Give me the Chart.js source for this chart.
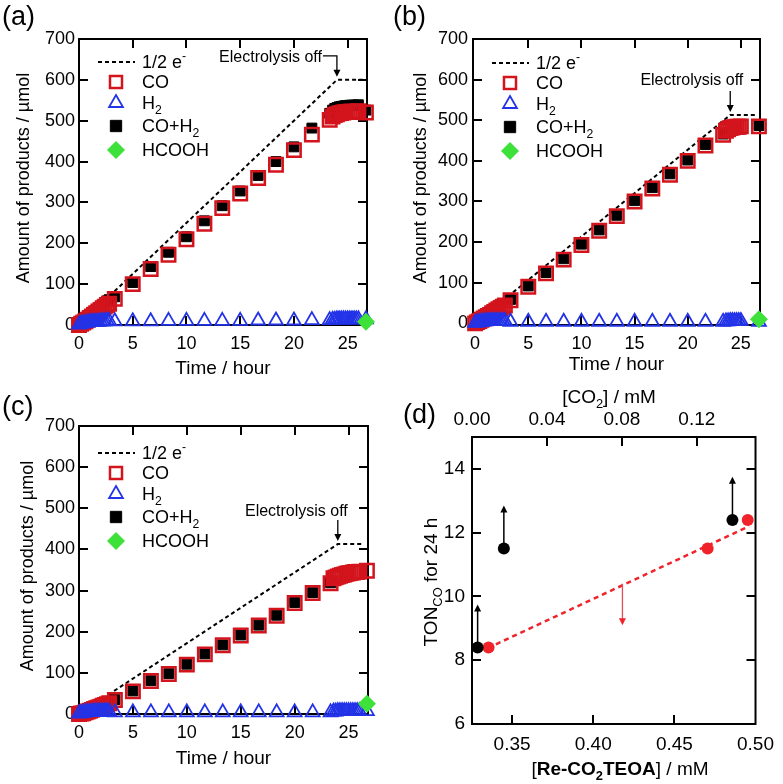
<!DOCTYPE html>
<html>
<head>
<meta charset="utf-8">
<script src="https://cdn.jsdelivr.net/npm/chart.js@4.4.0/dist/chart.umd.min.js"></script>
<style>
  body { margin: 0; background: #fff; }
  #wrap { position: relative; width: 783px; height: 784px; overflow: hidden; background: #fff; }
  canvas { position: absolute; }
</style>
</head>
<body>
<div id="wrap">
  <canvas id="chartA" width="391" height="390" style="left:0;top:0"></canvas>
  <canvas id="chartB" width="392" height="390" style="left:391px;top:0"></canvas>
  <canvas id="chartC" width="391" height="394" style="left:0;top:390px"></canvas>
  <canvas id="chartD" width="392" height="404" style="left:391px;top:380px"></canvas>
</div>
<script>
// sampling times (hour): dense start, every 100 min, dense end, final point
const hours = [0, 0.2, 0.4, 0.6, 0.8, 1.0, 1.2, 1.4, 1.6, 1.8, 2.0, 2.2, 2.4, 2.6, 2.8,
  3.33, 5, 6.67, 8.33, 10, 11.67, 13.33, 15, 16.67, 18.33, 20, 21.67, 23.33,
  23.6, 23.8, 24.0, 24.2, 24.4, 24.6, 24.8, 25.0, 25.2, 25.4, 25.6, 25.8, 26.0,
  26.7];
const hcoohHours = [26.7];
const halfEHours = [0, 24, 26.4];
const timeTicks = [0, 5, 10, 15, 20, 25];
const amountTicks = [0, 100, 200, 300, 400, 500, 600, 700];

// (a)
const coA = [0, 3, 6, 9, 13, 17, 21, 25, 29, 33, 37, 41, 45, 49, 52,
  64, 100, 137, 172, 210, 248, 286, 322, 360, 392, 428, 466, 502,
  510, 514, 516, 518, 519, 520, 521, 521, 522, 522, 522, 522, 523,
  520];
const h2A = [1, 3, 4, 5, 6, 7, 7, 8, 8, 8, 9, 9, 9, 10, 10,
  9, 9, 9, 10, 10, 10, 10, 10, 11, 11, 11, 12, 12,
  13, 13, 14, 14, 14, 14, 14, 14, 14, 14, 14, 14, 14,
  14];
const sumA = [1, 6, 10, 14, 19, 24, 28, 33, 37, 41, 46, 50, 54, 59, 62,
  69, 104, 143, 178, 216, 255, 292, 328, 366, 400, 436, 482, 518,
  526, 530, 532, 534, 535, 536, 537, 537, 538, 538, 538, 538, 539,
  526];
const hcoohA = [8];
const halfEA = [0, 600, 600];

// (b)
const coB = [0, 3, 6, 9, 12, 15, 18, 21, 25, 28, 32, 35, 38, 41, 44,
  57, 90, 123, 157, 193, 228, 264, 300, 332, 366, 400, 438, 464,
  474, 478, 481, 482, 483, 484, 484, 485, null, null, null, null, null,
  485];
const h2B = [1, 2, 3, 4, 5, 5, 6, 6, 6, 6, 6, 6, 6, 6, 6,
  4, 4, 4, 4, 4, 4, 4, 4, 4, 4, 4, 4, 4,
  5, 5, 6, 6, 6, 6, 6, 6, null, null, null, null, null,
  4];
const sumB = [null, null, null, null, null, null, null, null, null, null, null, null, null, null, null,
  59, 92, 125, 159, 195, 230, 266, 302, 334, 368, 402, 440, 466,
  null, null, null, null, null, null, null, null, null, null, null, null, null,
  487];
const hcoohB = [10];
const halfEB = [0, 513, 513];

// (c)
const coC = [0, 1, 2, 4, 6, 8, 10, 12, 14, 16, 18, 20, 22, 24, 26,
  34, 55, 80, 97, 120, 145, 167, 191, 215, 239, 270, 294, 318,
  330, 332, 334, 336, 338, 339, 341, 342, 343, 344, 345, 345, 346,
  348];
const h2C = [1, 2, 3, 4, 5, 5, 5, 6, 6, 6, 6, 6, 6, 6, 6,
  4, 4, 4, 4, 4, 4, 4, 4, 4, 4, 4, 4, 4,
  6, 6, 7, 7, 7, 7, 7, 7, 7, 7, 7, 7, 7,
  7];
const sumC = [null, null, null, null, null, null, null, null, null, null, null, null, null, null, null,
  35, 56, 81, 98, 121, 146, 168, 192, 216, 240, 271, 295, 319,
  null, null, null, null, null, null, null, null, null, null, null, null, null,
  null];
const hcoohC = [25];
const halfEC = [0, 413, 413];

// (d)
const co2Conc = [0.003, 0.017, 0.139];       // [CO2] / mM (top axis)
const tonBlack = [8.4, 11.5, 12.4];
const tonBlackArrowTo = [9.75, 12.85, 13.75];
const reConc = [0.3355, 0.4705, 0.4952];    // [Re-CO2TEOA] / mM
const tonRed = [8.4, 11.5, 12.4];
const fitConc = [0.335, 0.496];
const fitTon = [8.38, 12.2];
const redArrowConc = 0.418;
const redArrowTon = [10.4, 9.1];

const FONT = '"Liberation Sans", Arial, Helvetica, sans-serif';
const RED = '#d3141c';
const BLUE = '#2233e8';
const GREEN = '#3ee03a';
const BRIGHTRED = '#f0232a';

function pts(xs, ys) {
  return xs.map((x, i) => ({x: x, y: ys[i]})).filter(p => p.y !== null && p.y !== undefined);
}

// parts: [text, flags] flags: 'B' bold, '_' subscript, '^' superscript
function richText(ctx, parts, x, y, size, align) {
  let total = 0;
  const items = parts.map(p => {
    const t = p[0], f = p[1] || '';
    const small = f.includes('_') || f.includes('^');
    const fs = small ? size * 0.68 : size;
    const font = (f.includes('B') ? 'bold ' : '') + fs.toFixed(1) + 'px ' + FONT;
    ctx.font = font;
    const w = ctx.measureText(t).width;
    total += w;
    return {t: t, font: font, w: w, dy: f.includes('_') ? size * 0.26 : (f.includes('^') ? -size * 0.45 : 0)};
  });
  let cx = align === 'center' ? x - total / 2 : (align === 'right' ? x - total : x);
  const base = y + size * 0.36;
  ctx.textAlign = 'left';
  ctx.textBaseline = 'alphabetic';
  items.forEach(it => {
    ctx.font = it.font;
    ctx.fillText(it.t, cx, base + it.dy);
    cx += it.w;
  });
}

function vText(ctx, parts, x, y, size) {
  ctx.save();
  ctx.translate(x, y);
  ctx.rotate(-Math.PI / 2);
  richText(ctx, parts, 0, 0, size, 'center');
  ctx.restore();
}

function arrowHead(ctx, x, y, dir, color) {
  // dir 1 = pointing down, -1 = pointing up
  ctx.fillStyle = color;
  ctx.beginPath();
  ctx.moveTo(x, y);
  ctx.lineTo(x - 3.5, y - dir * 7);
  ctx.lineTo(x + 3.5, y - dir * 7);
  ctx.closePath();
  ctx.fill();
}

// full box with inward ticks on every side
const frame = {
  id: 'frame',
  beforeDatasetsDraw(chart, args, opts) {
    const ctx = chart.ctx, a = chart.chartArea;
    const L = 9;
    ctx.save();
    ctx.strokeStyle = '#000';
    ctx.lineWidth = 2;
    ctx.strokeRect(a.left, a.top, a.right - a.left, a.bottom - a.top);
    Object.values(chart.scales).forEach(sc => {
      sc.ticks.forEach(t => {
        const p = Math.round(sc.getPixelForValue(t.value));
        ctx.beginPath();
        if (sc.isHorizontal()) {
          if (p < a.left + 3 || p > a.right - 3) return;
          if (sc.position === 'bottom' || opts.mirror) { ctx.moveTo(p, a.bottom); ctx.lineTo(p, a.bottom - L); }
          if (sc.position === 'top' || opts.mirror) { ctx.moveTo(p, a.top); ctx.lineTo(p, a.top + L); }
        } else {
          if (p < a.top + 3 || p > a.bottom - 3) return;
          ctx.moveTo(a.left, p); ctx.lineTo(a.left + L, p);
          ctx.moveTo(a.right, p); ctx.lineTo(a.right - L, p);
        }
        ctx.stroke();
      });
    });
    ctx.restore();
  }
};

// labels, legend and the electrolysis-off arrow of panels a-c
const timeDecor = {
  id: 'timeDecor',
  afterDraw(chart, args, c) {
    const ctx = chart.ctx, a = chart.chartArea;
    const ox = c.off[0], oy = c.off[1];
    ctx.save();
    ctx.fillStyle = '#000';
    richText(ctx, [[c.tag]], c.tagPos[0] - ox, c.tagPos[1] - oy, 27, 'left');
    vText(ctx, [['Amount of products / µmol']], c.yTitleX - ox, (a.top + a.bottom) / 2 - 4, 18);
    richText(ctx, [['Time / hour']], (a.left + a.right) / 2, c.xTitleY - oy, 19, 'center');

    // legend
    const ds = chart.data.datasets;
    const sx = a.left + 37, tx = a.left + 63;
    const rows = [23, 43, 64, 87, 111].map(v => a.top + v + c.legShift);
    ctx.strokeStyle = '#000';
    ctx.lineWidth = 2;
    ctx.setLineDash([4, 3]);
    ctx.beginPath();
    ctx.moveTo(a.left + 19, rows[0]);
    ctx.lineTo(a.left + 56, rows[0]);
    ctx.stroke();
    ctx.setLineDash([]);
    const sym = [
      [ds[1], rows[1], 8.5],
      [ds[3], rows[2], 8],
      [ds[2], rows[3], 8],
      [ds[0], rows[4], 9]
    ];
    sym.forEach(s => {
      const d = s[0];
      ctx.fillStyle = d.backgroundColor;
      ctx.strokeStyle = d.borderColor;
      ctx.lineWidth = d.borderWidth;
      Chart.helpers.drawPoint(ctx, {pointStyle: d.pointStyle, radius: s[2], rotation: 0, borderWidth: d.borderWidth}, sx, s[1]);
    });
    ctx.fillStyle = '#000';
    richText(ctx, [['1/2 e'], ['-', '^']], tx, rows[0], 18, 'left');
    richText(ctx, [['CO']], tx, rows[1], 18, 'left');
    richText(ctx, [['H'], ['2', '_']], tx, rows[2], 18, 'left');
    richText(ctx, [['CO+H'], ['2', '_']], tx, rows[3], 18, 'left');
    richText(ctx, [['HCOOH']], tx, rows[4], 18, 'left');

    // electrolysis off
    const px = chart.scales.x.getPixelForValue(halfEHours[1]);
    const py = chart.scales.y.getPixelForValue(c.plateau) - 3;
    ctx.strokeStyle = '#000';
    ctx.lineWidth = 1.3;
    ctx.beginPath();
    if (c.elbow) {
      const ty = py - 21;
      richText(ctx, [['Electrolysis off']], px - 15, ty, 16, 'right');
      ctx.moveTo(px - 14, ty);
      ctx.lineTo(px, ty);
      ctx.lineTo(px, py - 5);
    } else {
      richText(ctx, [['Electrolysis off']], px + c.textDx, py + c.textDy, 16, 'right');
      ctx.moveTo(px, py - 21);
      ctx.lineTo(px, py - 5);
    }
    ctx.stroke();
    arrowHead(ctx, px, py, 1, '#000');
    ctx.restore();
  }
};

function timePanel(id, off, size, area, s, c) {
  c.off = off;
  const fontTick = {size: 18, family: FONT};
  new Chart(document.getElementById(id), {
    type: 'scatter',
    data: {
      datasets: [
        {label: 'HCOOH', data: pts(hcoohHours, s.hcooh), pointStyle: 'rectRot', pointRadius: 9,
          backgroundColor: GREEN, borderColor: GREEN, borderWidth: 0, order: 0, clip: false},
        {label: 'CO', data: pts(hours, s.co), pointStyle: 'rect', pointRadius: 9.5,
          backgroundColor: 'rgba(0,0,0,0)', borderColor: RED, borderWidth: 2.5, order: 2, clip: false},
        {label: 'CO+H2', data: pts(hours, s.sum), pointStyle: 'rect', pointRadius: 7,
          backgroundColor: '#000', borderColor: '#000', borderWidth: 1, order: 3, clip: false},
        {label: 'H2', data: pts(hours, s.h2), pointStyle: 'triangle', pointRadius: 8,
          backgroundColor: 'rgba(0,0,0,0)', borderColor: BLUE, borderWidth: 1.8, order: 1, clip: false},
        {label: '1/2 e-', data: pts(halfEHours, s.halfE), showLine: true, pointRadius: 0,
          borderColor: '#000', borderWidth: 2, borderDash: [4, 3], order: 4, clip: false}
      ]
    },
    options: {
      responsive: false,
      animation: false,
      events: [],
      layout: {padding: {top: area[1] - off[1], right: off[0] + size[0] - area[2], left: 0, bottom: 0}},
      plugins: {legend: {display: false}, tooltip: {enabled: false}, frame: {mirror: true}, timeDecor: c},
      scales: {
        x: {
          type: 'linear', min: c.xMin, max: 26.8,
          grid: {display: false, drawTicks: false}, border: {display: false},
          ticks: {padding: 8, maxRotation: 0, autoSkip: false, color: '#000', font: fontTick},
          afterBuildTicks: sc => { sc.ticks = timeTicks.map(v => ({value: v})); },
          afterFit: sc => { sc.height = off[1] + size[1] - area[3]; }
        },
        y: {
          min: c.yMin, max: 700,
          grid: {display: false, drawTicks: false}, border: {display: false},
          ticks: {padding: c.yPad, autoSkip: false, color: '#000', font: fontTick},
          afterBuildTicks: sc => { sc.ticks = amountTicks.map(v => ({value: v})); },
          afterFit: sc => { sc.width = area[0] - off[0]; }
        }
      }
    },
    plugins: [frame, timeDecor]
  });
}

timePanel('chartA', [0, 0], [391, 390], [79, 39, 367, 325],
  {co: coA, h2: h2A, sum: sumA, hcooh: hcoohA, halfE: halfEA},
  {tag: '(a)', tagPos: [2, 15], yTitleX: 23, xTitleY: 367, xMin: 0, yMin: 0, yPad: 4,
   legShift: 0, plateau: halfEA[1], elbow: true});

timePanel('chartB', [391, 0], [392, 390], [473, 39, 760, 325],
  {co: coB, h2: h2B, sum: sumB, hcooh: hcoohB, halfE: halfEB},
  {tag: '(b)', tagPos: [393, 15], yTitleX: 420, xTitleY: 363, xMin: -0.2, yMin: -4, yPad: 5,
   legShift: 1, plateau: halfEB[1], elbow: false, textDx: 13, textDy: -33});

timePanel('chartC', [0, 390], [391, 394], [79, 426, 368, 714],
  {co: coC, h2: h2C, sum: sumC, hcooh: hcoohC, halfE: halfEC},
  {tag: '(c)', tagPos: [2, 405], yTitleX: 27, xTitleY: 757, xMin: 0, yMin: 0, yPad: 4,
   legShift: 4, plateau: halfEC[1], elbow: false, textDx: 10, textDy: -31});

// panel (d)
const dOff = [391, 380];
const dArea = [472, 437, 762, 724];
const dDecor = {
  id: 'dDecor',
  afterDraw(chart) {
    const ctx = chart.ctx, a = chart.chartArea;
    const xs = chart.scales.x, x2 = chart.scales.x2, ys = chart.scales.y;
    ctx.save();
    ctx.fillStyle = '#000';
    richText(ctx, [['(d)']], 403 - dOff[0], 413 - dOff[1], 27, 'left');
    richText(ctx, [['[CO'], ['2', '_'], ['] / mM']], 609 - dOff[0], 396 - dOff[1], 19, 'center');
    richText(ctx, [['['], ['Re-CO', 'B'], ['2', 'B_'], ['TEOA', 'B'], ['] / mM']], 620 - dOff[0], 768 - dOff[1], 19, 'center');
    vText(ctx, [['TON'], ['CO', '_'], [' for 24 h']], 430 - dOff[0], 582 - dOff[1], 19);

    // black arrows (lower limits)
    ctx.strokeStyle = '#000';
    ctx.lineWidth = 1.5;
    co2Conc.forEach((c, i) => {
      const px = x2.getPixelForValue(c);
      const y0 = ys.getPixelForValue(tonBlack[i]);
      const y1 = ys.getPixelForValue(tonBlackArrowTo[i]);
      ctx.beginPath();
      ctx.moveTo(px, y0);
      ctx.lineTo(px, y1 + 5);
      ctx.stroke();
      arrowHead(ctx, px, y1, -1, '#000');
    });
    // red arrow
    const rx = xs.getPixelForValue(redArrowConc);
    const r0 = ys.getPixelForValue(redArrowTon[0]);
    const r1 = ys.getPixelForValue(redArrowTon[1]);
    ctx.strokeStyle = '#e0505a';
    ctx.lineWidth = 1.3;
    ctx.beginPath();
    ctx.moveTo(rx, r0);
    ctx.lineTo(rx, r1 - 5);
    ctx.stroke();
    arrowHead(ctx, rx, r1, 1, BRIGHTRED);
    ctx.restore();
  }
};

const dTick = {size: 19, family: FONT};
new Chart(document.getElementById('chartD'), {
  type: 'scatter',
  data: {
    datasets: [
      {label: 'black', data: pts(co2Conc, tonBlack), xAxisID: 'x2', pointStyle: 'circle', pointRadius: 6,
        backgroundColor: '#000', borderColor: '#000', borderWidth: 0, order: 0, clip: false},
      {label: 'red', data: pts(reConc, tonRed), xAxisID: 'x', pointStyle: 'circle', pointRadius: 6,
        backgroundColor: BRIGHTRED, borderColor: BRIGHTRED, borderWidth: 0, order: 1, clip: false},
      {label: 'fit', data: pts(fitConc, fitTon), xAxisID: 'x', showLine: true, pointRadius: 0,
        borderColor: BRIGHTRED, borderWidth: 2.5, borderDash: [5, 4], order: 2, clip: false}
    ]
  },
  options: {
    responsive: false,
    animation: false,
    events: [],
    layout: {padding: {top: 0, right: dOff[0] + 392 - dArea[2], left: 0, bottom: 0}},
    plugins: {legend: {display: false}, tooltip: {enabled: false}, frame: {mirror: false}},
    scales: {
      x: {
        type: 'linear', position: 'bottom', min: 0.3253, max: 0.5,
        grid: {display: false, drawTicks: false}, border: {display: false},
        ticks: {stepSize: 0.05, includeBounds: false, padding: 9, maxRotation: 0, color: '#000', font: dTick,
          callback: v => v.toFixed(2)},
        afterFit: sc => { sc.height = dOff[1] + 404 - dArea[3]; }
      },
      x2: {
        type: 'linear', position: 'top', min: 0, max: 0.1513,
        grid: {display: false, drawTicks: false}, border: {display: false},
        ticks: {stepSize: 0.04, includeBounds: false, padding: 6, maxRotation: 0, color: '#000', font: dTick,
          callback: v => v.toFixed(2)},
        afterFit: sc => { sc.height = dArea[1] - dOff[1]; }
      },
      y: {
        min: 6, max: 15,
        grid: {display: false, drawTicks: false}, border: {display: false},
        ticks: {stepSize: 2, includeBounds: false, padding: 7, color: '#000', font: dTick},
        afterFit: sc => { sc.width = dArea[0] - dOff[0]; }
      }
    }
  },
  plugins: [frame, dDecor]
});
</script>
</body>
</html>
